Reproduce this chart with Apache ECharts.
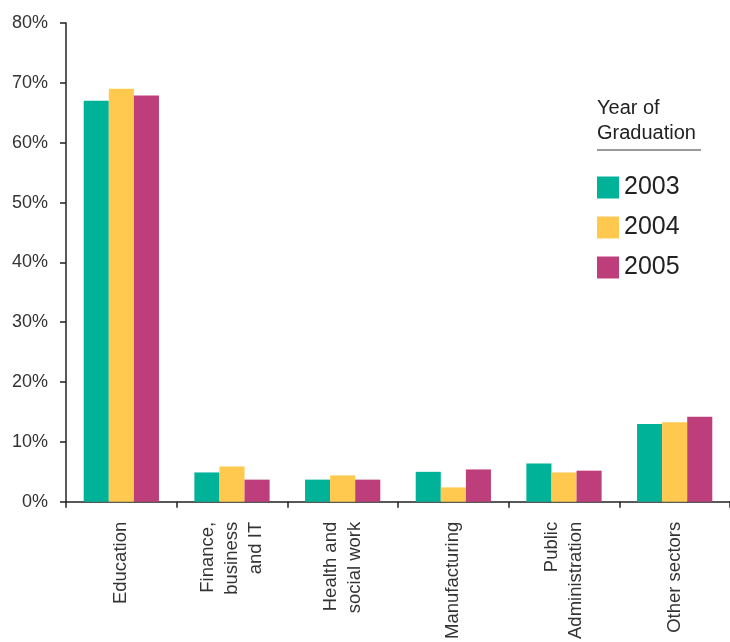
<!DOCTYPE html>
<html>
<head>
<meta charset="utf-8">
<script src="https://cdn.jsdelivr.net/npm/echarts@6/dist/echarts.min.js"></script>
<style>html,body{margin:0;padding:0;background:#fff}#c{width:730px;height:642px}</style>
</head>
<body>
<div id="c"></div>
<script>
var categories = ["Education", "Finance,\nbusiness\nand IT", "Health and\nsocial work", "Manufacturing", "Public\nAdministration", "Other sectors"];
var years = ["2003", "2004", "2005"];
var values2003 = [67.0, 4.9, 3.7, 5.0, 6.4, 13.0];
var values2004 = [69.0, 5.9, 4.4, 2.4, 4.9, 13.3];
var values2005 = [67.9, 3.7, 3.7, 5.4, 5.2, 14.2];
var yTicks = {min: 0, max: 80, interval: 10};
var legendTitle = "Year of\nGraduation";

var colors = ["#00B398", "#FFC94F", "#BE3E7B"];
var font = "'Liberation Sans', Arial, sans-serif";
var chart = echarts.init(document.getElementById('c'), null, {renderer: 'canvas'});
var seriesData = [values2003, values2004, values2005];
chart.setOption({
  animation: false,
  color: colors,
  textStyle: {fontFamily: font},
  grid: {left: 66, top: 23, bottom: 137, width: 667},
  legend: {
    orient: 'vertical', left: 592, top: 170,
    icon: 'rect', itemWidth: 22, itemHeight: 22, itemGap: 15,
    textStyle: {fontSize: 25, color: '#222', fontFamily: font},
    data: years
  },
  graphic: [
    {type: 'text', left: 597, top: 96, style: {text: legendTitle, font: "20px " + font, fill: '#222', lineHeight: 25}},
    {type: 'line', shape: {x1: 597, y1: 150, x2: 701, y2: 150}, style: {stroke: '#9a9a9a', lineWidth: 2}}
  ],
  xAxis: {
    type: 'category', data: categories,
    axisLine: {lineStyle: {color: '#222', width: 1.5}},
    axisTick: {show: true, length: 6, lineStyle: {color: '#222', width: 1.5}},
    axisLabel: {interval: 0, rotate: 90, fontSize: 18.5, lineHeight: 24, color: '#333', margin: 20, fontFamily: font}
  },
  yAxis: {
    type: 'value', min: yTicks.min, max: yTicks.max, interval: yTicks.interval,
    splitLine: {show: false},
    axisLine: {show: true, lineStyle: {color: '#222', width: 1.5}},
    axisTick: {show: true, length: 6, lineStyle: {color: '#222', width: 1.5}},
    axisLabel: {formatter: '{value}%', fontSize: 18, color: '#333', margin: 18, fontFamily: font}
  },
  series: years.map(function (y, i) {
    return {name: y, type: 'bar', data: seriesData[i], barGap: '0%', barCategoryGap: '32%'};
  })
});
</script>
</body>
</html>
